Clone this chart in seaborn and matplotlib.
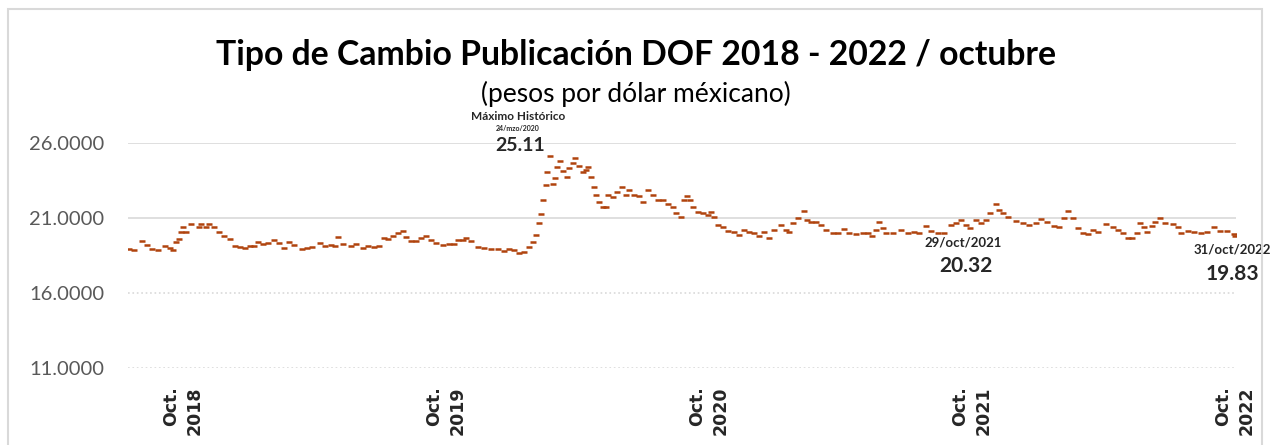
import matplotlib
matplotlib.use("Agg")
import matplotlib.pyplot as plt
from matplotlib.patches import Rectangle
import pandas as pd
import seaborn as sns

# Tipo de cambio FIX (DOF)
fechas = [
    "2018-08-18", "2018-08-25", "2018-09-04", "2018-09-11", "2018-09-18", "2018-09-27",
    "2018-10-06", "2018-10-13", "2018-10-18", "2018-10-22", "2018-10-26", "2018-10-29",
    "2018-11-01", "2018-11-05", "2018-11-12", "2018-11-22", "2018-11-26", "2018-12-03",
    "2018-12-07", "2018-12-14", "2018-12-21", "2018-12-28", "2019-01-04", "2019-01-11",
    "2019-01-18", "2019-01-25", "2019-02-01", "2019-02-07", "2019-02-13", "2019-02-20",
    "2019-02-27", "2019-03-07", "2019-03-14", "2019-03-21", "2019-03-28", "2019-04-04",
    "2019-04-14", "2019-04-21", "2019-04-28", "2019-05-09", "2019-05-16", "2019-05-25",
    "2019-05-30", "2019-06-04", "2019-06-11", "2019-06-22", "2019-06-29", "2019-07-09",
    "2019-07-16", "2019-07-24", "2019-07-31", "2019-08-06", "2019-08-12", "2019-08-19",
    "2019-08-26", "2019-09-02", "2019-09-06", "2019-09-13", "2019-09-20", "2019-09-27",
    "2019-10-04", "2019-10-11", "2019-10-18", "2019-10-28", "2019-11-05", "2019-11-12",
    "2019-11-18", "2019-11-25", "2019-11-29", "2019-12-06", "2019-12-15", "2019-12-24",
    "2020-01-02", "2020-01-12", "2020-01-20", "2020-01-27", "2020-02-03", "2020-02-10",
    "2020-02-17", "2020-02-24", "2020-03-01", "2020-03-05", "2020-03-09", "2020-03-12",
    "2020-03-15", "2020-03-19", "2020-03-20", "2020-03-24", "2020-03-28", "2020-03-31",
    "2020-04-03", "2020-04-07", "2020-04-11", "2020-04-17", "2020-04-20", "2020-04-25",
    "2020-04-28", "2020-05-04", "2020-05-09", "2020-05-13", "2020-05-16", "2020-05-20",
    "2020-05-24", "2020-05-27", "2020-05-31", "2020-06-06", "2020-06-10", "2020-06-13",
    "2020-06-20", "2020-06-25", "2020-07-02", "2020-07-08", "2020-07-12", "2020-07-19",
    "2020-07-26", "2020-07-31", "2020-08-07", "2020-08-14", "2020-08-21", "2020-08-28",
    "2020-09-04", "2020-09-11", "2020-09-15", "2020-09-22", "2020-09-26", "2020-09-30",
    "2020-10-05", "2020-10-09", "2020-10-16", "2020-10-23", "2020-10-30", "2020-11-03",
    "2020-11-07", "2020-11-12", "2020-11-19", "2020-11-26", "2020-12-05", "2020-12-12",
    "2020-12-19", "2020-12-25", "2021-01-01", "2021-01-08", "2021-01-15", "2021-01-22",
    "2021-01-29", "2021-02-08", "2021-02-15", "2021-02-19", "2021-02-25", "2021-03-04",
    "2021-03-12", "2021-03-16", "2021-03-22", "2021-03-28", "2021-04-04", "2021-04-11",
    "2021-04-21", "2021-04-28", "2021-05-06", "2021-05-13", "2021-05-23", "2021-06-02",
    "2021-06-09", "2021-06-14", "2021-06-20", "2021-06-24", "2021-06-29", "2021-07-04",
    "2021-07-13", "2021-07-24", "2021-08-03", "2021-08-12", "2021-08-18", "2021-08-28",
    "2021-09-04", "2021-09-14", "2021-09-22", "2021-10-02", "2021-10-09", "2021-10-16",
    "2021-10-23", "2021-10-29", "2021-11-06", "2021-11-13", "2021-11-20", "2021-11-26",
    "2021-12-03", "2021-12-08", "2021-12-14", "2021-12-21", "2021-12-31", "2022-01-10",
    "2022-01-18", "2022-01-28", "2022-02-04", "2022-02-13", "2022-02-22", "2022-03-01",
    "2022-03-08", "2022-03-13", "2022-03-20", "2022-03-27", "2022-04-03", "2022-04-10",
    "2022-04-17", "2022-04-25", "2022-05-05", "2022-05-15", "2022-05-22", "2022-05-29",
    "2022-06-05", "2022-06-11", "2022-06-17", "2022-06-21", "2022-06-27", "2022-07-02",
    "2022-07-08", "2022-07-13", "2022-07-20", "2022-07-27", "2022-08-06", "2022-08-13",
    "2022-08-17", "2022-08-27", "2022-09-04", "2022-09-14", "2022-09-23", "2022-10-02",
    "2022-10-11", "2022-10-21", "2022-10-30", "2022-10-31",
]
tipo_cambio = [
    18.93, 18.90, 19.47, 19.20, 18.91, 18.85,
    19.16, 18.98, 18.87, 19.42, 19.58, 20.09,
    20.42, 20.09, 20.58, 20.42, 20.60, 20.42,
    20.60, 20.38, 20.04, 19.80, 19.58, 19.16,
    19.09, 19.02, 19.13, 19.16, 19.42, 19.27,
    19.31, 19.53, 19.31, 19.02, 19.38, 19.20,
    18.91, 18.98, 19.09, 19.31, 19.16, 19.20,
    19.16, 19.76, 19.27, 19.16, 19.27, 19.02,
    19.13, 19.09, 19.16, 19.64, 19.58, 19.80,
    19.98, 20.16, 19.76, 19.49, 19.47, 19.69,
    19.82, 19.53, 19.31, 19.20, 19.24, 19.27,
    19.53, 19.53, 19.64, 19.47, 19.09, 18.98,
    18.93, 18.91, 18.82, 18.93, 18.87, 18.69,
    18.76, 19.09, 19.42, 19.87, 20.64, 21.24,
    22.20, 23.20, 24.04, 25.11, 23.24, 23.64,
    24.42, 24.82, 24.16, 23.71, 24.31, 24.69,
    24.98, 24.47, 24.09, 24.20, 24.38, 23.71,
    23.09, 22.53, 22.09, 21.76, 21.76, 22.53,
    22.42, 22.76, 23.10, 22.53, 22.87, 22.53,
    22.47, 22.09, 22.87, 22.53, 22.20, 22.20,
    21.93, 21.76, 21.36, 21.09, 22.20, 22.49,
    22.20, 21.76, 21.42, 21.36, 21.20, 21.42,
    21.09, 20.53, 20.42, 20.16, 20.09, 19.87,
    20.20, 20.09, 19.98, 19.82, 20.09, 19.64,
    20.20, 20.53, 20.20, 20.09, 20.69, 20.98,
    21.49, 20.87, 20.76, 20.76, 20.53, 20.20,
    19.98, 19.98, 20.24, 19.98, 19.93, 20.02,
    19.98, 19.80, 20.20, 20.76, 20.31, 20.02,
    20.02, 20.20, 20.02, 20.09, 19.98, 20.47,
    20.16, 19.98, 20.02, 20.53, 20.69, 20.87,
    20.53, 20.32, 20.87, 20.64, 20.87, 21.31,
    21.93, 21.53, 21.31, 21.04, 20.82, 20.69,
    20.53, 20.69, 20.91, 20.76, 20.49, 20.42,
    20.98, 21.49, 20.98, 20.31, 20.02, 19.93,
    20.20, 20.09, 20.60, 20.38, 20.20, 19.98,
    19.64, 19.64, 20.02, 20.69, 20.42, 20.09,
    20.47, 20.76, 20.98, 20.69, 20.60, 20.42,
    20.02, 20.16, 20.09, 20.02, 20.09, 20.38,
    20.16, 20.16, 19.93, 19.83,
]

marcas_x = ["2018-10-31", "2019-10-31", "2020-10-31", "2021-10-31", "2022-10-31"]
etiquetas_x = ["Oct.\n2018", "Oct.\n2019", "Oct.\n2020", "Oct.\n2021", "Oct.\n2022"]
marcas_y = [11, 16, 21, 26]

df = pd.DataFrame({"fecha": pd.to_datetime(fechas), "tc": tipo_cambio})

sns.set_theme(style="white")
plt.rcParams["font.family"] = ["Lato", "DejaVu Sans"]

color_serie = "#B0430D"
gris = "#D9D9D9"

fig = plt.figure(figsize=(12.72, 4.45), dpi=100)
ax = fig.add_axes([128 / 1272, 1 - 368 / 445, 1108 / 1272, 225 / 445])

# marco exterior
fig.patches.append(Rectangle((8 / 1272, -0.1), 1254 / 1272, 1.1 - 9 / 445,
                             transform=fig.transFigure, fill=False,
                             edgecolor=gris, linewidth=1.5))

sns.scatterplot(data=df, x="fecha", y="tc", marker="_", s=13, linewidth=1.8,
                color=color_serie, ax=ax, legend=False, zorder=3)

ax.set_ylim(11, 26)
ax.set_xlim(pd.Timestamp("2018-08-16"), pd.Timestamp("2022-11-02"))

for v in marcas_y:
    estilo = "-" if v >= 21 else ":"
    ax.axhline(v, color=gris, lw=1.2, ls=estilo, zorder=1)

ax.set_yticks(marcas_y)
ax.set_yticklabels([f"{v:.4f}" for v in marcas_y], fontsize=14.5, color="#595959")
ax.set_xticks(pd.to_datetime(marcas_x))
ax.set_xticklabels(etiquetas_x, rotation=90, fontsize=12.5, fontweight="bold",
                   family="DejaVu Sans", linespacing=1.4, va="top", ha="center",
                   multialignment="right")
ax.tick_params(axis="y", length=0, pad=17)
ax.tick_params(axis="x", length=0, pad=13)
for s in ax.spines.values():
    s.set_visible(False)
ax.set_xlabel("")
ax.set_ylabel("")
ax.grid(False)

fig.text(0.5, 1 - 55 / 445, "Tipo de Cambio Publicación DOF 2018 - 2022 / octubre",
         ha="center", va="center", fontsize=24.3, fontweight="bold", color="black")
fig.text(0.5, 1 - 94 / 445, "(pesos por dólar méxicano)",
         ha="center", va="center", fontsize=19, color="black")

# anotaciones
pico = pd.Timestamp("2020-03-24")
ax.annotate("Máximo Histórico", xy=(pico, 25.11), xytext=(-32, 40),
            textcoords="offset pixels", ha="center", va="center",
            fontsize=8.5, fontweight="bold", annotation_clip=False)
ax.annotate("24/mzo/2020", xy=(pico, 25.11), xytext=(-32, 28),
            textcoords="offset pixels", ha="center", va="center",
            fontsize=5, fontweight="bold", annotation_clip=False)
ax.annotate("25.11", xy=(pico, 25.11), xytext=(-30, 11),
            textcoords="offset pixels", ha="center", va="center",
            fontsize=14, fontweight="bold", annotation_clip=False)

f21 = pd.Timestamp("2021-10-29")
ax.annotate("29/oct/2021", xy=(f21, 20.32), xytext=(-7, -14),
            textcoords="offset pixels", ha="center", va="center",
            fontsize=9.5, fontweight="bold")
ax.annotate("20.32", xy=(f21, 20.32), xytext=(-4, -38),
            textcoords="offset pixels", ha="center", va="center",
            fontsize=15, fontweight="bold")

f22 = pd.Timestamp("2022-10-31")
ax.annotate("31/oct/2022", xy=(f22, 19.83), xytext=(-2, -14),
            textcoords="offset pixels", ha="center", va="center",
            fontsize=9.5, fontweight="bold", annotation_clip=False)
ax.annotate("19.83", xy=(f22, 19.83), xytext=(-2, -38),
            textcoords="offset pixels", ha="center", va="center",
            fontsize=15, fontweight="bold", annotation_clip=False)

fig.savefig("out.png", dpi=100)
